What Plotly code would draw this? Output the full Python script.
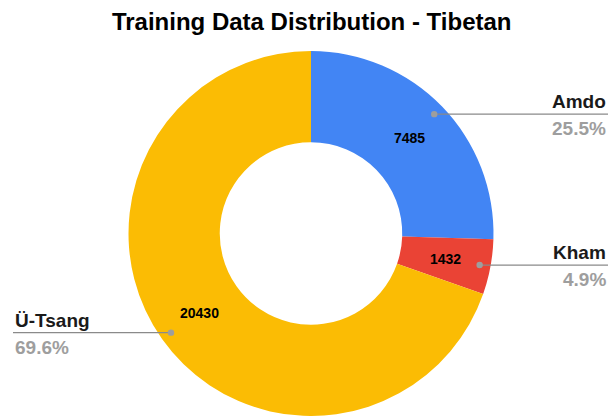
import math
import plotly.graph_objects as go

title = "Training Data Distribution - Tibetan"
labels = ["Amdo", "Kham", "Ü-Tsang"]
values = [7485, 1432, 20430]
colors = ["#4285F4", "#EA4335", "#FBBC04"]

W, H = 610, 416
ML, MR, MT, MB = 12, 0, 51, 0
HOLE = 0.5
FONT = "Liberation Sans, Arial, sans-serif"

fig = go.Figure(go.Pie(
    labels=labels, values=values, hole=HOLE, sort=False, direction="clockwise",
    rotation=0, marker=dict(colors=colors, line=dict(width=0)),
    textinfo="none", hoverinfo="label+value+percent",
    showlegend=False,
))

# geometry of the pie in pixels (derived from the layout)
pw, ph = W - ML - MR, H - MT - MB
R = min(pw, ph) / 2
cx, cy = ML + pw / 2, MT + ph / 2

def to_paper(px, py):
    return (px - ML) / pw, (H - MB - py) / ph

total = sum(values)
cum = 0
shapes, annotations = [], []
for lab, v in zip(labels, values):
    mid = (cum + v / 2) / total * 2 * math.pi
    cum += v
    dx, dy = math.sin(mid), -math.cos(mid)
    # value label inside the ring
    rm = R * (1 + HOLE) / 2
    vx, vy = to_paper(cx + rm * dx, cy + rm * dy)
    annotations.append(dict(xref="paper", yref="paper", x=vx, y=vy, text=f"<b>{v}</b>",
                            showarrow=False, xanchor="center", yanchor="middle",
                            font=dict(family=FONT, size=14, color="#000000")))
    # leader line + outside label
    r = 0.94 * R
    px, py = cx + r * dx, cy + r * dy
    right = dx > 0
    ex = W - 2 if right else 13
    x0, y0 = to_paper(px, py)
    x1, _ = to_paper(ex, py)
    shapes.append(dict(type="line", xref="paper", yref="paper", x0=x0, x1=x1, y0=y0, y1=y0,
                       line=dict(color="#8a8a8a", width=1.3)))
    d = 3.2
    shapes.append(dict(type="circle", xref="paper", yref="paper",
                       x0=(px - d - ML) / pw, x1=(px + d - ML) / pw,
                       y0=(H - MB - py - d) / ph, y1=(H - MB - py + d) / ph,
                       fillcolor="#9e9e9e", line=dict(width=0)))
    pct = f"{v / total * 100:.1f}%"
    anchor = "right" if right else "left"
    annotations.append(dict(xref="paper", yref="paper", x=x1, y=y0, text=f"<b>{lab}</b>",
                            showarrow=False, xanchor=anchor, yanchor="bottom", yshift=0,
                            font=dict(family=FONT, size=19, color="#1a1a1a")))
    annotations.append(dict(xref="paper", yref="paper", x=x1, y=y0, text=f"<b>{pct}</b>",
                            showarrow=False, xanchor=anchor, yanchor="top", yshift=-2,
                            font=dict(family=FONT, size=19, color="#9e9e9e")))

fig.update_layout(
    width=W, height=H, margin=dict(l=ML, r=MR, t=MT, b=MB),
    paper_bgcolor="white", plot_bgcolor="white",
    title=dict(text=f"<b>{title}</b>", x=0.511, xanchor="center", y=1 - 22 / H,
               yanchor="middle", yref="container",
               font=dict(family=FONT, size=24, color="#000000")),
    shapes=shapes, annotations=annotations,
)

fig.write_html("out.html", config={"displayModeBar": False},
               post_script="document.body.style.margin='0';document.body.style.overflow='hidden';")
